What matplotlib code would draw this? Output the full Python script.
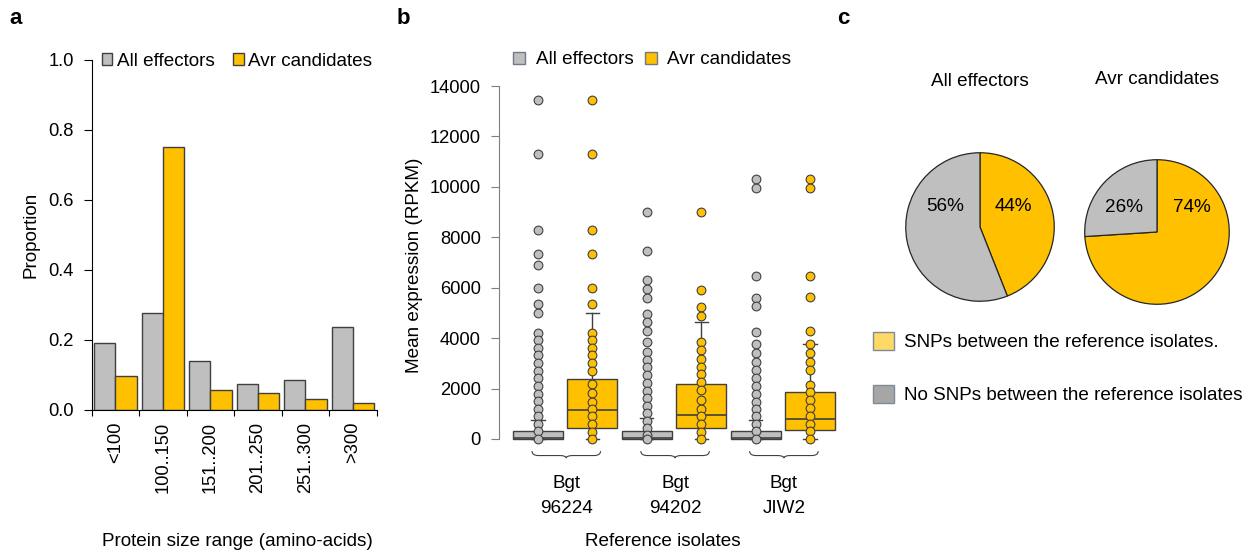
import numpy as np
import matplotlib
matplotlib.use("Agg")
import matplotlib.pyplot as plt
from matplotlib.patches import Patch
from matplotlib.path import Path
from matplotlib.patches import PathPatch
import matplotlib.transforms as mtransforms

plt.rcParams['font.family'] = ['Liberation Sans', 'DejaVu Sans']
plt.rcParams['font.size'] = 13.6
plt.rcParams['xtick.labelsize'] = 13.2
plt.rcParams['ytick.labelsize'] = 13.2

GREY = '#BFBFBF'
GOLD = '#FFC000'
EDGE = '#404040'

# ---- panel a data ----
size_ranges = ['<100', '100..150', '151..200', '201..250', '251..300', '>300']
prop_all = [0.19, 0.275, 0.138, 0.072, 0.084, 0.236]
prop_avr = [0.096, 0.75, 0.057, 0.048, 0.029, 0.018]

# ---- panel b data ----
isolates = ['Bgt\n96224', 'Bgt\n94202', 'Bgt\nJIW2']
# box stats (q1, median, q3, whisker low, whisker high)
box_all = [(0, 30, 320, 0, 740), (0, 30, 330, 0, 810), (0, 30, 320, 0, 760)]
box_avr = [(450, 1150, 2390, 0, 5000), (420, 930, 2170, 0, 4650), (360, 780, 1860, 0, 3780)]
pts_all_96224 = [13450, 11290, 8270, 7350, 6900, 6000, 5350, 4980, 4220, 3920, 3620, 3310,
                 3010, 2700, 2400, 2100, 1800, 1500, 1200, 900, 600, 300, 0]
pts_avr_96224 = [13450, 11290, 8270, 7350, 6000, 5350, 4220, 3920, 3620, 3310, 3010, 2680,
                 2175, 1815, 1470, 1180, 890, 600, 290, 0]
pts_all_94202 = [9000, 7450, 6310, 5930, 5600, 4950, 4640, 4270, 3830, 3460, 3130, 2850,
                 2550, 2210, 1920, 1620, 1310, 1020, 730, 420, 150, 0]
pts_avr_94202 = [9000, 5900, 5225, 4865, 3845, 3515, 3170, 2865, 2560, 2270, 1935, 1525,
                 1195, 890, 600, 290, 0]
pts_all_jiw2 = [10315, 9960, 6470, 5600, 5265, 4245, 3765, 3410, 3035, 2717, 2415, 2080,
                1770, 1480, 1190, 900, 600, 310, 0]
pts_avr_jiw2 = [10315, 9960, 6480, 5620, 4270, 3765, 3410, 3035, 2717, 2135, 1850, 1550,
                1230, 920, 600, 310, 0]
pts_all = [pts_all_96224, pts_all_94202, pts_all_jiw2]
pts_avr = [pts_avr_96224, pts_avr_94202, pts_avr_jiw2]

# ---- panel c data ----
pie_titles = ['All effectors', 'Avr candidates']
snp_pct = [44, 74]
no_snp_pct = [56, 26]

W, H = 1258, 556
fig = plt.figure(figsize=(W / 100, H / 100), dpi=100)


def px_axes(x0, y0, x1, y1):
    # axes from pixel box (top-left origin)
    return fig.add_axes([x0 / W, 1 - y1 / H, (x1 - x0) / W, (y1 - y0) / H])


# ================= panel a =================
ax = px_axes(91.7, 59.6, 376.7, 409.6)
x = np.arange(len(size_ranges)) + 0.5
ax.bar(x - 0.225, prop_all, width=0.45, color=GREY, edgecolor=EDGE, lw=1)
ax.bar(x + 0.225, prop_avr, width=0.45, color=GOLD, edgecolor=EDGE, lw=1)
ax.set_xlim(0, 6)
ax.set_ylim(0, 1.0)
ax.set_yticks(np.arange(0, 1.01, 0.2))
ax.set_yticklabels([f'{v:.1f}' for v in np.arange(0, 1.01, 0.2)])
ax.set_xticks(np.arange(0, 7))
ax.set_xticklabels([])
ax.set_xticks(x, minor=True)
ax.set_xticklabels(size_ranges, minor=True, rotation=90, va='top')
ax.tick_params(axis='x', which='minor', length=0, pad=9)
ax.tick_params(axis='x', which='major', length=4, direction='out')
ax.tick_params(axis='y', length=6, pad=7)
for s in ['top', 'right']:
    ax.spines[s].set_visible(False)
ax.set_ylabel('Proportion', labelpad=6)
fig.text(237.5 / W, 1 - 541 / H, 'Protein size range (amino-acids)', ha='center', va='center')
ax.legend(handles=[Patch(fc=GREY, ec=EDGE, label='All effectors'),
                   Patch(fc=GOLD, ec=EDGE, label='Avr candidates')],
          ncol=2, loc='center left', bbox_to_anchor=(102 / W, 1 - 61 / H),
          bbox_transform=fig.transFigure, frameon=False, borderpad=0, borderaxespad=0,
          handlelength=0.55, handleheight=0.55, handletextpad=0.22, columnspacing=1.0)

# ================= panel b =================
bx = px_axes(499, 80, 840, 450)
step = 54.4
bx.set_xlim(-(538 - 499) / step, (840 - 538) / step)
bx.set_ylim(-440, 14240)
stats = []
colors = []
pts = []
for i in range(3):
    for b, c, p in ((box_all[i], GREY, pts_all[i]), (box_avr[i], GOLD, pts_avr[i])):
        q1, med, q3, lo, hi = b
        stats.append(dict(q1=q1, med=med, q3=q3, whislo=lo, whishi=hi, fliers=[]))
        colors.append(c)
        pts.append(p)
pos = np.arange(len(stats))
bp = bx.bxp(stats, positions=pos, widths=0.92, patch_artist=True, showfliers=False,
            boxprops=dict(ec=EDGE, lw=1), medianprops=dict(color=EDGE, lw=1.2),
            whiskerprops=dict(color=EDGE, lw=1), capprops=dict(color=EDGE, lw=1),
            capwidths=0.24)
for patch, c in zip(bp['boxes'], colors):
    patch.set_facecolor(c)
for p, vals, c in zip(pos, pts, colors):
    bx.plot(np.full(len(vals), p), vals, 'o', ms=6.3, mfc=c, mec=EDGE, mew=0.8,
            clip_on=False, zorder=4)
bx.set_yticks(np.arange(0, 14001, 2000))
bx.spines['left'].set_bounds(0, 14000)
bx.spines['left'].set_color('#7F7F7F')
for s in ['top', 'right', 'bottom']:
    bx.spines[s].set_visible(False)
bx.set_xticks([])
bx.tick_params(axis='y', length=6, pad=7, color='#7F7F7F')
bx.set_ylabel('Mean expression (RPKM)', labelpad=5)

trans = mtransforms.blended_transform_factory(bx.transData, bx.transAxes)
for i, lab in enumerate(isolates):
    xm = 2 * i + 0.52
    x0, x1 = xm - 0.63, xm + 0.63
    yt, ym, yb, e = -0.003, -0.015, -0.022, 0.12
    verts = [(x0, yt), (x0, ym), (x0 + e, ym), (xm - e, ym), (xm, ym), (xm, yb),
             (x1, yt), (x1, ym), (x1 - e, ym), (xm + e, ym), (xm, ym), (xm, yb)]
    codes = [Path.MOVETO, Path.CURVE3, Path.CURVE3, Path.LINETO, Path.CURVE3, Path.CURVE3] * 2
    bx.add_patch(PathPatch(Path(verts, codes), fc='none', ec='#404040', lw=0.8,
                           transform=trans, clip_on=False))
    bx.text(xm, -0.124, lab, transform=trans, ha='center', va='center',
            linespacing=1.6)
fig.text(663 / W, 1 - 541 / H, 'Reference isolates', ha='center', va='center')
bx.legend(handles=[Patch(fc=GREY, ec='#6D7A8A', label='All effectors'),
                   Patch(fc=GOLD, ec='#6D7A8A', label='Avr candidates')],
          ncol=2, loc='center left', bbox_to_anchor=(513 / W, 1 - 60 / H),
          bbox_transform=fig.transFigure, frameon=False, borderpad=0, borderaxespad=0,
          handlelength=0.65, handleheight=0.65, handletextpad=0.55, columnspacing=0.6)

# ================= panel c =================
centers = [(980, 227, 75), (1157, 232, 73)]
label_pos = [((0.45, 0.27), (-0.47, 0.27)), ((0.48, 0.34), (-0.45, 0.34))]
for k in range(2):
    cx, cy, r = centers[k]
    pa = px_axes(cx - r, cy - r, cx + r, cy + r)
    wedges, _ = pa.pie([snp_pct[k], no_snp_pct[k]], colors=[GOLD, GREY], startangle=90,
                       counterclock=False, radius=1,
                       wedgeprops=dict(ec='#262626', lw=0.9))
    pa.set_xlim(-1.01, 1.01)
    pa.set_ylim(-1.01, 1.01)
    pa.set_aspect('auto')
    for (lx, ly), v in zip(label_pos[k], [snp_pct[k], no_snp_pct[k]]):
        pa.text(lx, ly, f'{v}%', ha='center', va='center')
    fig.text(cx / W, 1 - (82 - 2 * k) / H, pie_titles[k], ha='center', va='center')

fig.legend(handles=[Patch(fc='#FFD966', ec='#7F8A99', label='SNPs between the reference isolates.'),
                    Patch(fc='#A6A6A6', ec='#7F8A99', label='No SNPs between the reference isolates')],
           loc='upper left', bbox_to_anchor=(873 / W, 1 - 332 / H), frameon=False,
           borderpad=0, borderaxespad=0, handlelength=1.1, handleheight=1.1,
           handletextpad=0.55, labelspacing=1.75)

# panel letters
for lab, xx in (('a', 16), ('b', 403), ('c', 843)):
    fig.text(xx / W, 1 - 18 / H, lab, fontsize=16, fontweight='bold', ha='center', va='center')

fig.savefig('out.png', dpi=100)
